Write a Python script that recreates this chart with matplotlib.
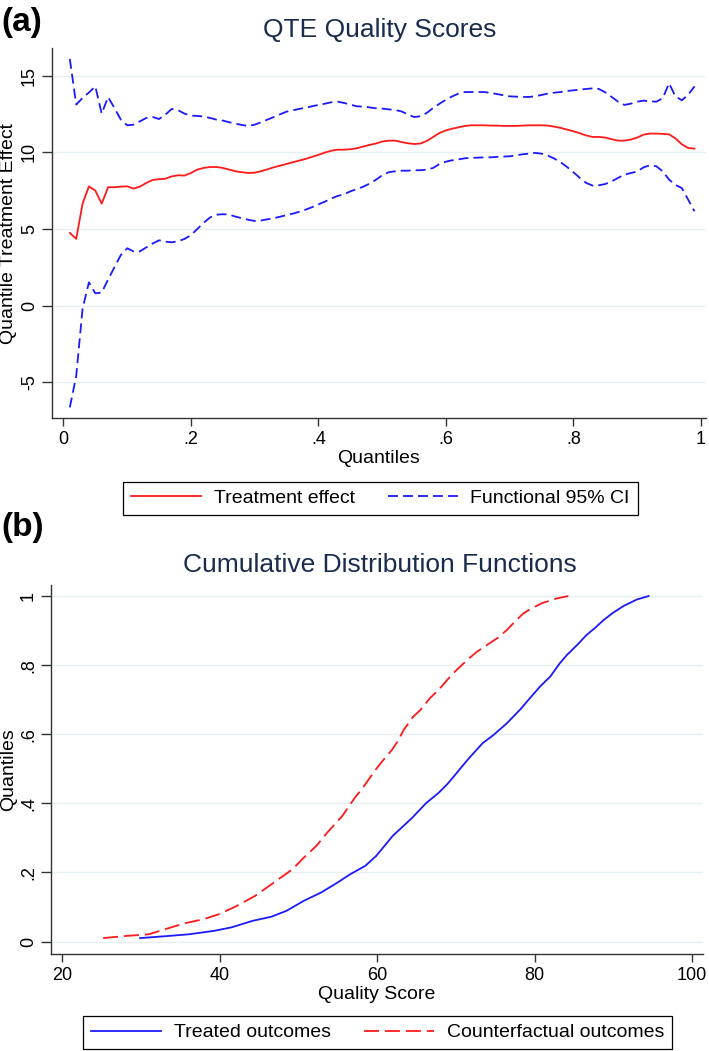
import matplotlib
matplotlib.use('Agg')
import matplotlib.pyplot as plt
import numpy as np

plt.rcParams['font.family'] = ['Liberation Sans', 'DejaVu Sans']

# panel (a): quantile treatment effects, q = .01 ... .99
quantiles = np.arange(1, 100) / 100
effect = [4.74, 4.35, 6.65, 7.78, 7.5, 6.65, 7.72, 7.72, 7.76, 7.78,
          7.63, 7.76, 8.0, 8.2, 8.24, 8.28, 8.43, 8.5, 8.48, 8.65,
          8.87, 8.98, 9.04, 9.04, 8.98, 8.87, 8.76, 8.7, 8.65, 8.67,
          8.76, 8.89, 9.02, 9.13, 9.24, 9.35, 9.46, 9.57, 9.7, 9.83,
          9.98, 10.1, 10.17, 10.17, 10.2, 10.26, 10.37, 10.48, 10.57, 10.7,
          10.76, 10.76, 10.67, 10.59, 10.54, 10.57, 10.74, 11.0, 11.26, 11.43,
          11.54, 11.63, 11.72, 11.76, 11.76, 11.76, 11.74, 11.74, 11.72, 11.72,
          11.72, 11.74, 11.76, 11.76, 11.76, 11.74, 11.67, 11.59, 11.48, 11.37,
          11.24, 11.1, 11.0, 11.0, 10.96, 10.85, 10.76, 10.76, 10.83, 10.96,
          11.15, 11.22, 11.22, 11.2, 11.17, 10.91, 10.52, 10.28, 10.24]
ci_upper = [16.09, 13.11, 13.54, 13.9, 14.3, 12.52, 13.6, 12.89, 12.13, 11.76,
            11.8, 12.02, 12.24, 12.3, 12.17, 12.46, 12.83, 12.74, 12.52, 12.39,
            12.37, 12.33, 12.24, 12.13, 12.07, 11.96, 11.87, 11.78, 11.72, 11.8,
            11.96, 12.13, 12.3, 12.48, 12.65, 12.74, 12.83, 12.91, 13.0, 13.09,
            13.17, 13.26, 13.3, 13.22, 13.11, 13.0, 12.98, 12.93, 12.87, 12.85,
            12.8, 12.76, 12.67, 12.48, 12.3, 12.35, 12.57, 12.89, 13.17, 13.43,
            13.65, 13.83, 13.93, 13.93, 13.93, 13.93, 13.87, 13.8, 13.72, 13.65,
            13.63, 13.61, 13.61, 13.65, 13.74, 13.83, 13.89, 13.93, 14.0, 14.04,
            14.09, 14.13, 14.17, 14.13, 13.91, 13.61, 13.3, 13.09, 13.17, 13.3,
            13.37, 13.33, 13.3, 13.52, 14.5, 13.65, 13.39, 13.76, 14.3]
ci_lower = [-6.64, -4.6, -0.2, 1.52, 0.8, 0.85, 1.7, 2.5, 3.3, 3.74,
            3.54, 3.54, 3.8, 4.05, 4.26, 4.17, 4.13, 4.2, 4.35, 4.6,
            5.0, 5.4, 5.75, 5.93, 5.96, 5.94, 5.8, 5.7, 5.6, 5.52,
            5.55, 5.63, 5.7, 5.8, 5.9, 6.0, 6.12, 6.26, 6.42, 6.6,
            6.78, 6.98, 7.15, 7.26, 7.45, 7.6, 7.75, 7.95, 8.2, 8.5,
            8.7, 8.76, 8.8, 8.8, 8.83, 8.83, 8.87, 8.98, 9.24, 9.39,
            9.48, 9.54, 9.61, 9.63, 9.65, 9.67, 9.67, 9.7, 9.72, 9.74,
            9.8, 9.87, 9.91, 9.96, 9.91, 9.78, 9.59, 9.35, 9.04, 8.7,
            8.33, 8.0, 7.83, 7.85, 7.93, 8.1, 8.33, 8.54, 8.65, 8.74,
            9.02, 9.15, 9.09, 8.76, 8.22, 7.87, 7.67, 6.91, 6.15]

# panel (b): cumulative distribution functions
treated_score = [29.9, 33.4, 36.1, 39.3, 41.5, 44.2, 46.6, 48.5, 50.7, 52.9,
                 55.0, 56.6, 58.5, 59.9, 62.0, 64.5, 66.2, 67.8, 68.9, 69.9,
                 71.5, 73.4, 74.8, 76.5, 78.2, 79.4, 80.7, 82.0, 83.2, 84.1,
                 85.4, 86.6, 87.7, 88.8, 90.0, 91.3, 93.0, 94.5]
treated_q = [0.01, 0.016, 0.021, 0.031, 0.041, 0.06, 0.072, 0.089, 0.118, 0.142,
             0.171, 0.195, 0.219, 0.248, 0.306, 0.359, 0.40, 0.43, 0.455, 0.482,
             0.526, 0.574, 0.598, 0.632, 0.672, 0.704, 0.738, 0.767, 0.805, 0.829,
             0.858, 0.887, 0.908, 0.931, 0.952, 0.971, 0.99, 1.0]
counter_score = [25.2, 28.0, 31.0, 33.4, 35.6, 38.0, 39.9, 42.0, 44.5, 46.9,
                 49.3, 50.7, 52.3, 53.7, 55.6, 57.2, 58.0, 58.9, 59.8, 61.0,
                 61.9, 62.6, 63.4, 64.6, 65.5, 66.7, 67.8, 69.1, 70.1, 71.6,
                 72.7, 74.4, 75.4, 76.5, 77.5, 78.6, 79.4, 80.9, 82.8, 84.3]
counter_q = [0.01, 0.016, 0.021, 0.038, 0.053, 0.065, 0.079, 0.101, 0.132, 0.171,
             0.21, 0.243, 0.277, 0.316, 0.364, 0.417, 0.439, 0.468, 0.497, 0.531,
             0.555, 0.579, 0.613, 0.651, 0.67, 0.704, 0.728, 0.762, 0.786, 0.818,
             0.839, 0.865, 0.88, 0.902, 0.926, 0.95, 0.961, 0.979, 0.993, 1.0]

title_color = '#1a2b4c'
grid_color = '#e6eff1'
red = '#ff1a1a'
blue = '#1a1aff'


def style_axes(ax):
    for s in ['top', 'right']:
        ax.spines[s].set_visible(False)
    for s in ['left', 'bottom']:
        ax.spines[s].set_color('#333333')
        ax.spines[s].set_linewidth(1.0)
    ax.tick_params(direction='out', width=1.0, colors='#333333',
                   labelcolor='black', labelsize=13)
    ax.tick_params(axis='x', length=5.5, pad=4)
    ax.tick_params(axis='y', length=7, pad=3)
    ax.yaxis.grid(True, color=grid_color, linewidth=1.0)
    ax.set_axisbelow(True)
    for lab in ax.get_yticklabels():
        lab.set_rotation(90)
        lab.set_va('center')


def add_legend(ax, center):
    leg = fig.legend(*ax.get_legend_handles_labels(), loc='center',
                     bbox_to_anchor=center, ncol=2, fancybox=False,
                     edgecolor='black', framealpha=1, fontsize=14,
                     handlelength=3.6, handletextpad=0.65, columnspacing=1.7,
                     borderpad=0.4)
    leg.get_frame().set_linewidth(0.9)
    return leg


fig = plt.figure(figsize=(7.09, 10.51), dpi=100)

# ---- (a)
ax1 = fig.add_axes([0.0733, 0.6023, 0.9225, 0.352])
ax1.plot(quantiles, effect, color=red, lw=1.3, label='Treatment effect')
ax1.plot(quantiles, ci_upper, color=blue, lw=1.3, dashes=(5.5, 2.8),
         label='Functional 95% CI')
ax1.plot(quantiles, ci_lower, color=blue, lw=1.3, dashes=(5.5, 2.8))
ax1.set_xlim(-0.018, 1.008)
ax1.set_ylim(-7.33, 16.8)
ax1.set_xticks([0, 0.2, 0.4, 0.6, 0.8, 1])
ax1.set_xticklabels(['0', '.2', '.4', '.6', '.8', '1'])
ax1.set_yticks([-5, 0, 5, 10, 15])
ax1.set_yticklabels(['-5', '0', '5', '10', '15'])
style_axes(ax1)
ax1.set_xlabel('Quantiles', fontsize=14, labelpad=1)
ax1.set_ylabel('Quantile Treatment Effect', fontsize=14, va='center')
ax1.yaxis.set_label_coords(-0.066, 0.5)
fig.text(0.536, 0.9715, 'QTE Quality Scores', ha='center', va='center',
         fontsize=19, color=title_color)
fig.text(0.002, 0.993, '(a)', ha='left', va='top', fontsize=24,
         fontweight='bold')
add_legend(ax1, (0.5367, 0.5257))

# ---- (b)
ax2 = fig.add_axes([0.0719, 0.0923, 0.9196, 0.3511])
ax2.plot(treated_score, treated_q, color=blue, lw=1.3, label='Treated outcomes')
ax2.plot(counter_score, counter_q, color=red, lw=1.3, dashes=(8.3, 3.3),
         label='Counterfactual outcomes')
ax2.set_xlim(18.58, 101.4)
ax2.set_ylim(-0.036, 1.032)
ax2.set_xticks([20, 40, 60, 80, 100])
ax2.set_yticks([0, 0.2, 0.4, 0.6, 0.8, 1])
ax2.set_yticklabels(['0', '.2', '.4', '.6', '.8', '1'])
style_axes(ax2)
ax2.set_xlabel('Quality Score', fontsize=14, labelpad=1)
ax2.set_ylabel('Quantiles', fontsize=14, va='center')
ax2.yaxis.set_label_coords(-0.065, 0.5)
fig.text(0.536, 0.4625, 'Cumulative Distribution Functions', ha='center',
         va='center', fontsize=19, color=title_color)
fig.text(0.002, 0.5125, '(b)', ha='left', va='top', fontsize=24,
         fontweight='bold')
add_legend(ax2, (0.5326, 0.0176))

fig.savefig('out.png', dpi=100)
